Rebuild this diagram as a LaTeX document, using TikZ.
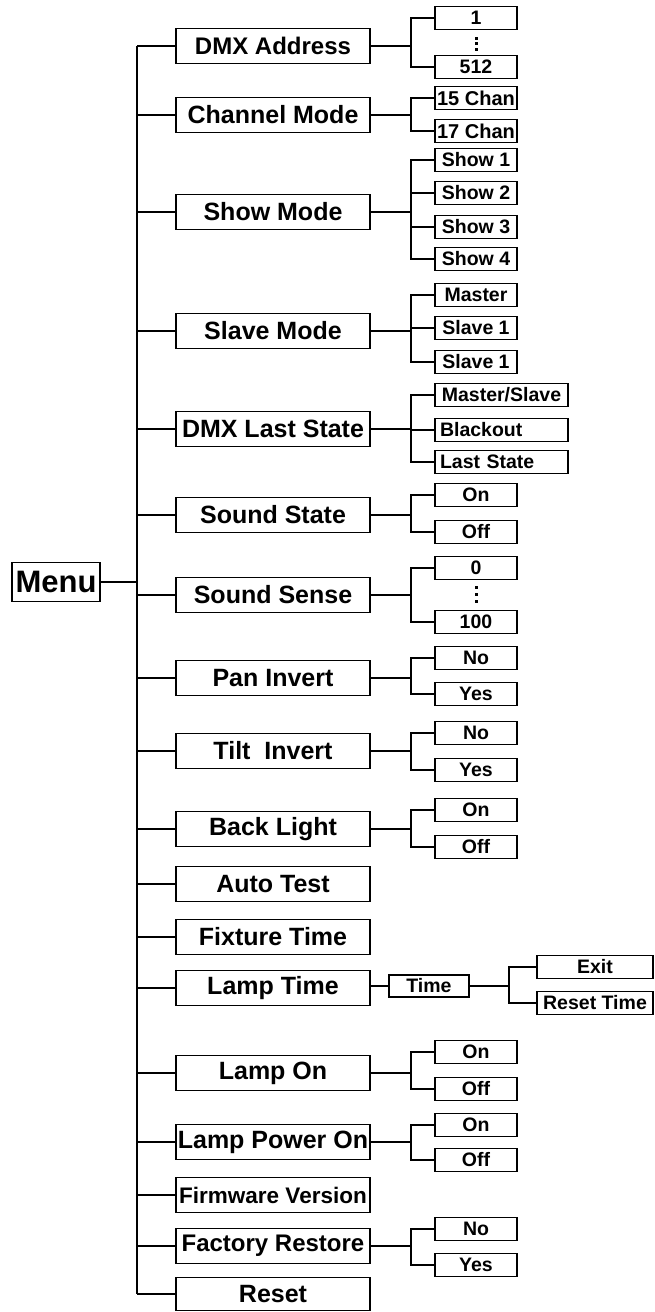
\documentclass[tikz,border=0pt]{standalone}
\usepackage{fontspec}
\setmainfont{Liberation Sans}
\begin{document}
\begin{tikzpicture}[x=1pt,y=-1pt,
  lone/.style={draw,line width=1.6pt,minimum width=194pt,minimum height=35pt,inner sep=0pt,
    font=\fontsize{25}{30}\selectfont\bfseries},
  ltwo/.style={draw,line width=1.5pt,minimum width=82pt,minimum height=23pt,inner sep=0pt,
    font=\fontsize{19.5}{22}\selectfont\bfseries},
  lwide/.style={ltwo,minimum width=133pt},
  lleft/.style={lwide,text width=123pt,align=left,inner xsep=5pt},
  conn/.style={line width=1.4pt},
  dotbox/.style={fill=black}]
\useasboundingbox (0,0) rectangle (655,1312);

% menu
\node[draw,line width=1.8pt,minimum width=88pt,minimum height=39pt,inner sep=0pt,
  font=\fontsize{31}{34}\selectfont\bfseries] (menu) at (56,582) {Menu};

% level 1
\def\cx{273}
\node[lone,font=\fontsize{24}{28}\selectfont\bfseries] (dmx) at (\cx,46) {DMX Address};
\node[lone] (chm) at (\cx,115) {Channel Mode};
\node[lone] (shm) at (\cx,212) {Show Mode};
\node[lone] (slm) at (\cx,331) {Slave Mode};
\node[lone] (dls) at (\cx,429) {DMX Last State};
\node[lone] (sst) at (\cx,515) {Sound State};
\node[lone] (sse) at (\cx,595) {Sound Sense};
\node[lone] (pan) at (\cx,678) {Pan Invert};
\node[lone] (tilt) at (\cx,751) {Tilt\ \ Invert};
\node[lone] (bl) at (\cx,829) {Back Light};
\node[lone] (at) at (\cx,884) {Auto Test};
\node[lone] (ft) at (\cx,937) {Fixture Time};
\node[lone] (lt) at (\cx,988) {Lamp Time};
\node[lone] (lo) at (\cx,1073) {Lamp On};
\node[lone] (lpo) at (\cx,1142) {Lamp Power On};
\node[lone,font=\fontsize{22.5}{26}\selectfont\bfseries] (fw) at (\cx,1195) {Firmware Version};
\node[lone,font=\fontsize{24}{28}\selectfont\bfseries] (fr) at (\cx,1246) {Factory Restore};
\node[lone,minimum height=33pt] (rst) at (\cx,1294) {Reset};

% trunk
\coordinate (tx) at (137,0);
\draw[conn] (menu.east) -- (menu.east -| tx);
\draw[conn] (tx |- dmx.west) -- (tx |- rst.west);
\foreach \n in {dmx,chm,shm,slm,dls,sst,sse,pan,tilt,bl,at,ft,lt,lo,lpo,fw,fr,rst}
  \draw[conn] (tx |- \n.west) -- (\n.west);

% level 2
\def\sx{476}
\node[ltwo] (d1) at (\sx,18) {1};
\node[ltwo] (d512) at (\sx,67) {512};
\node[ltwo,font=\fontsize{20}{22}\selectfont\bfseries] (c15) at (\sx,98) {15 Chan};
\node[ltwo,font=\fontsize{20}{22}\selectfont\bfseries] (c17) at (\sx,131) {17 Chan};
\node[ltwo] (s1) at (\sx,160) {Show 1};
\node[ltwo] (s2) at (\sx,193) {Show 2};
\node[ltwo] (s3) at (\sx,227) {Show 3};
\node[ltwo] (s4) at (\sx,259) {Show 4};
\node[ltwo] (ma) at (\sx,295) {Master};
\node[ltwo] (sa) at (\sx,328) {Slave 1};
\node[ltwo] (sb) at (\sx,362) {Slave 1};
\node[lwide] (ms) at (501.5,395) {Master/Slave};
\node[lleft] (bo) at (501.5,430) {Blackout};
\node[lleft] (ls) at (501.5,462) {Last State};
\node[ltwo] (sson) at (\sx,495) {On};
\node[ltwo] (ssoff) at (\sx,532) {Off};
\node[ltwo] (z0) at (\sx,568) {0};
\node[ltwo] (z100) at (\sx,622) {100};
\node[ltwo] (pno) at (\sx,658) {No};
\node[ltwo] (pyes) at (\sx,694) {Yes};
\node[ltwo] (tno) at (\sx,733) {No};
\node[ltwo] (tyes) at (\sx,770) {Yes};
\node[ltwo] (blon) at (\sx,810) {On};
\node[ltwo] (bloff) at (\sx,847) {Off};
\node[ltwo] (lon) at (\sx,1052) {On};
\node[ltwo] (loff) at (\sx,1089) {Off};
\node[ltwo] (pon) at (\sx,1125) {On};
\node[ltwo] (poff) at (\sx,1160) {Off};
\node[ltwo] (fno) at (\sx,1229) {No};
\node[ltwo] (fyes) at (\sx,1265) {Yes};

% lamp time sub
\node[ltwo,minimum width=80pt,minimum height=22pt] (tm) at (429,986) {Time};
\node[ltwo,minimum width=116pt] (ex) at (595,967) {Exit};
\node[ltwo,minimum width=116pt] (rt) at (595,1003) {Reset Time};

% buses
\coordinate (bx) at (411,0);
\foreach \p/\c in {dmx/d1,dmx/d512,chm/c15,chm/c17,shm/s1,shm/s2,shm/s3,shm/s4,
  slm/ma,slm/sa,slm/sb,dls/ms,dls/bo,dls/ls,sst/sson,sst/ssoff,sse/z0,sse/z100,
  pan/pno,pan/pyes,tilt/tno,tilt/tyes,bl/blon,bl/bloff,lo/lon,lo/loff,
  lpo/pon,lpo/poff,fr/fno,fr/fyes}
  \draw[conn] (\p.east) -- (\p.east -| bx) |- (\c.west);

\draw[conn] (tm.west -| lt.east) -- (tm.west);
\coordinate (bt) at (509,0);
\draw[conn] (tm.east) -- (tm.east -| bt) |- (ex.west);
\draw[conn] (tm.east -| bt) |- (rt.west);

% vertical dots
\foreach \y in {38,43.5,49} \fill[dotbox] (474.5,\y-1.5) rectangle (477.5,\y+1.5);
\foreach \y in {587,594,601} \fill[dotbox] (474.5,\y-1.5) rectangle (477.5,\y+1.5);
\end{tikzpicture}
\end{document}
